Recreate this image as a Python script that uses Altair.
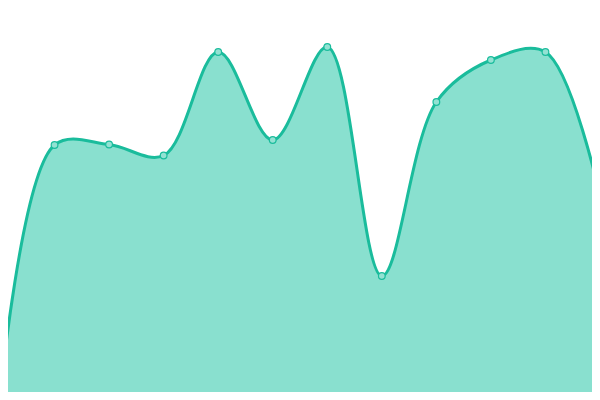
import altair as alt
import pandas as pd

idx = list(range(12))
vals = [2, 255, 255.5, 244.5, 348, 260, 353, 124, 298, 340, 348, 204]

df = pd.DataFrame({"i": idx, "v": vals})

x = alt.X("i:Q", scale=alt.Scale(domain=[0, 11], nice=False, zero=False), axis=None)
y = alt.Y("v:Q", scale=alt.Scale(domain=[0, 400], nice=False), axis=None)

base = alt.Chart(df).encode(x=x, y=y)

area = base.mark_area(interpolate="catmull-rom", color="#89e0cf", opacity=1)
line = base.mark_line(interpolate="catmull-rom", color="#1abc9c", strokeWidth=3)
pts = base.mark_point(filled=True, fill="#93e2d3", stroke="#1abc9c", strokeWidth=1.2, size=45, opacity=1)

chart = (area + line + pts).properties(
    width=600, height=400,
    padding={"left": -8, "top": -8, "right": -8, "bottom": -8},
    autosize=alt.AutoSizeParams(type="none"),
).configure_view(stroke=None)

chart.save("out.html", embed_options={"renderer": "svg", "actions": False})
